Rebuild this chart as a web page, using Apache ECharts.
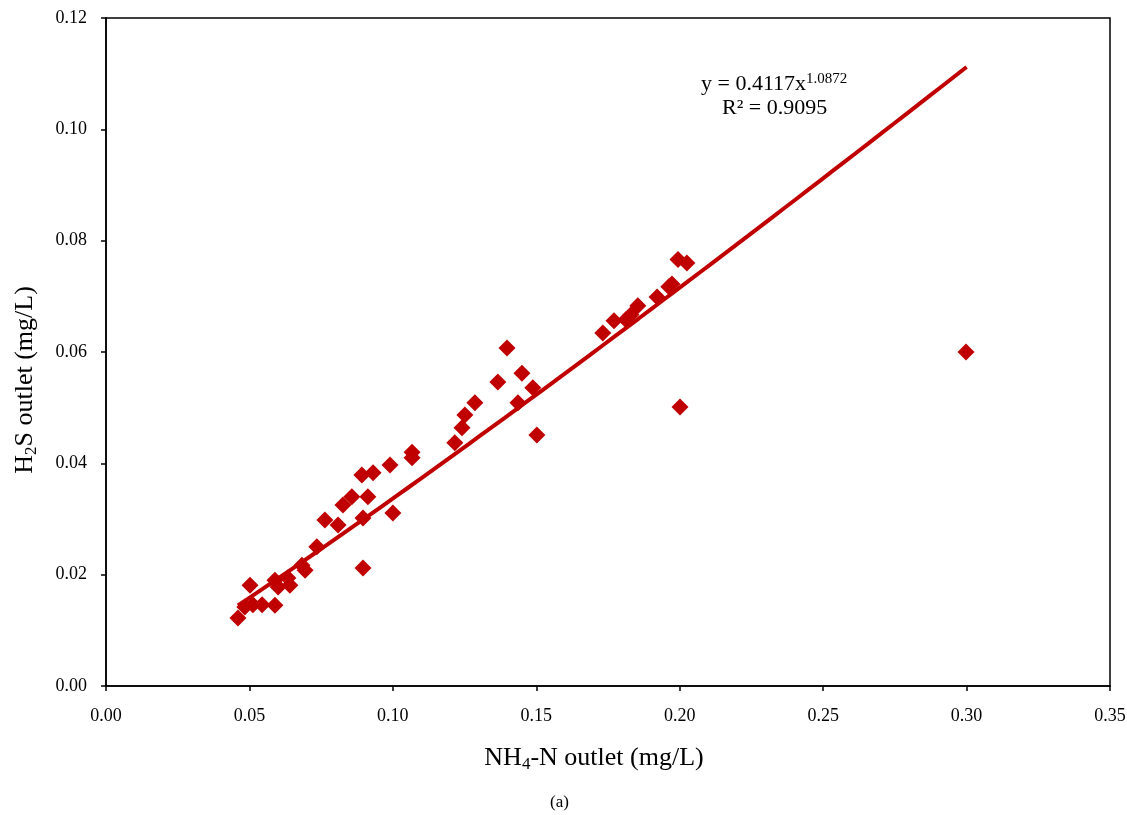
<!DOCTYPE html>
<html>
<head>
<meta charset="utf-8">
<script src="https://cdn.jsdelivr.net/npm/echarts@6/dist/echarts.min.js"></script>
<style>
html,body{margin:0;padding:0;background:#fff;}
#chart{width:1127px;height:815px;}
</style>
</head>
<body>
<div id="chart"></div>
<script>
// NH4-N outlet (mg/L)
const nh4 = [0.0460,0.0484,0.0502,0.0512,0.0544,0.0589,0.0589,0.0600,0.0634,0.0641,
  0.0683,0.0694,0.0735,0.0763,0.0809,0.0826,0.0857,0.0892,0.0896,0.0896,
  0.0913,0.0931,0.0990,0.1000,0.1067,0.1067,0.1216,0.1241,0.1251,0.1286,
  0.1366,0.1398,0.1436,0.1450,0.1488,0.1502,0.1732,0.1771,0.1812,0.1830,
  0.1854,0.1921,0.1962,0.1973,0.1994,0.2025,0.2001,0.2998];
// H2S outlet (mg/L)
const h2s = [0.0122,0.0142,0.0181,0.0146,0.0146,0.0145,0.0190,0.0178,0.0194,0.0181,
  0.0217,0.0208,0.0250,0.0298,0.0289,0.0325,0.0340,0.0379,0.0302,0.0212,
  0.0340,0.0383,0.0397,0.0311,0.0410,0.0420,0.0437,0.0464,0.0487,0.0509,
  0.0546,0.0607,0.0509,0.0562,0.0536,0.0451,0.0634,0.0656,0.0658,0.0667,
  0.0683,0.0699,0.0717,0.0722,0.0766,0.0760,0.0501,0.0600];
// Power trendline from displayed equation y = 0.4117x^1.0872
const trendCoef = 0.4117, trendExp = 1.0872, trendStart = 0.046, trendEnd = 0.30;

const scatterData = nh4.map((x, i) => [x, h2s[i]]);
const trendData = [];
for (let k = 0; k <= 60; k++) {
  const x = trendStart + (trendEnd - trendStart) * k / 60;
  trendData.push([x, trendCoef * Math.pow(x, trendExp)]);
}

const font = 'Liberation Serif, Times New Roman, serif';
const red = '#C00000';
const nameRich = {
  n: { fontFamily: font, fontSize: 26, color: '#000' },
  s: { fontFamily: font, fontSize: 17, color: '#000', verticalAlign: 'bottom', padding: [12, 0, 0, 0] }
};
const chart = echarts.init(document.getElementById('chart'));
chart.setOption({
  animation: false,
  backgroundColor: '#fff',
  textStyle: { fontFamily: font, color: '#000' },
  grid: { left: 106, right: 17, top: 18, bottom: 129, containLabel: false, outerBoundsMode: 'none',
    show: true, borderColor: '#000', borderWidth: 1.5 },
  xAxis: {
    type: 'value', min: 0, max: 0.35, interval: 0.05,
    axisLine: { show: true, lineStyle: { color: '#000', width: 1.5 } },
    axisTick: { show: true, inside: false, length: 5, lineStyle: { color: '#000', width: 1.5 } },
    axisLabel: { formatter: v => v.toFixed(2), fontFamily: font, fontSize: 18, color: '#000', margin: 21 },
    splitLine: { show: false },
    name: '{n|NH}{s|4}{n|-N outlet (mg/L)}',
    nameLocation: 'middle', nameGap: 58,
    nameTextStyle: { padding: [0, 28, 0, 0], rich: nameRich }
  },
  yAxis: {
    type: 'value', min: 0, max: 0.12, interval: 0.02,
    axisLine: { show: true, lineStyle: { color: '#000', width: 1.5 } },
    axisTick: { show: true, inside: false, length: 5, lineStyle: { color: '#000', width: 1.5 } },
    axisLabel: { formatter: v => v.toFixed(2), fontFamily: font, fontSize: 18, color: '#000', margin: 19 },
    splitLine: { show: false },
    name: '{n|H}{s|2}{n|S outlet (mg/L)}',
    nameLocation: 'middle', nameGap: 66,
    nameTextStyle: { padding: [0, 56, 0, 0], rich: nameRich }
  },
  series: [
    {
      type: 'line', data: trendData, showSymbol: false, symbol: 'none',
      lineStyle: { color: red, width: 4 }, z: 2, silent: true
    },
    {
      type: 'scatter', data: scatterData, symbol: 'diamond', symbolSize: 17,
      itemStyle: { color: red, opacity: 1 }, z: 3
    }
  ],
  graphic: [
    {
      type: 'text', left: 701, top: 72,
      style: {
        text: '{n|y = 0.4117x}{s|1.0872}',
        rich: {
          n: { fontFamily: font, fontSize: 22, fill: '#000' },
          s: { fontFamily: font, fontSize: 15, fill: '#000', verticalAlign: 'top', padding: [0, 0, 9, 0] }
        }
      }
    },
    {
      type: 'text', left: 722, top: 97,
      style: { text: 'R² = 0.9095', font: '22px ' + font, fill: '#000' }
    },
    {
      type: 'text', left: 550, top: 794,
      style: { text: '(a)', font: '17px ' + font, fill: '#000' }
    }
  ]
});
</script>
</body>
</html>
